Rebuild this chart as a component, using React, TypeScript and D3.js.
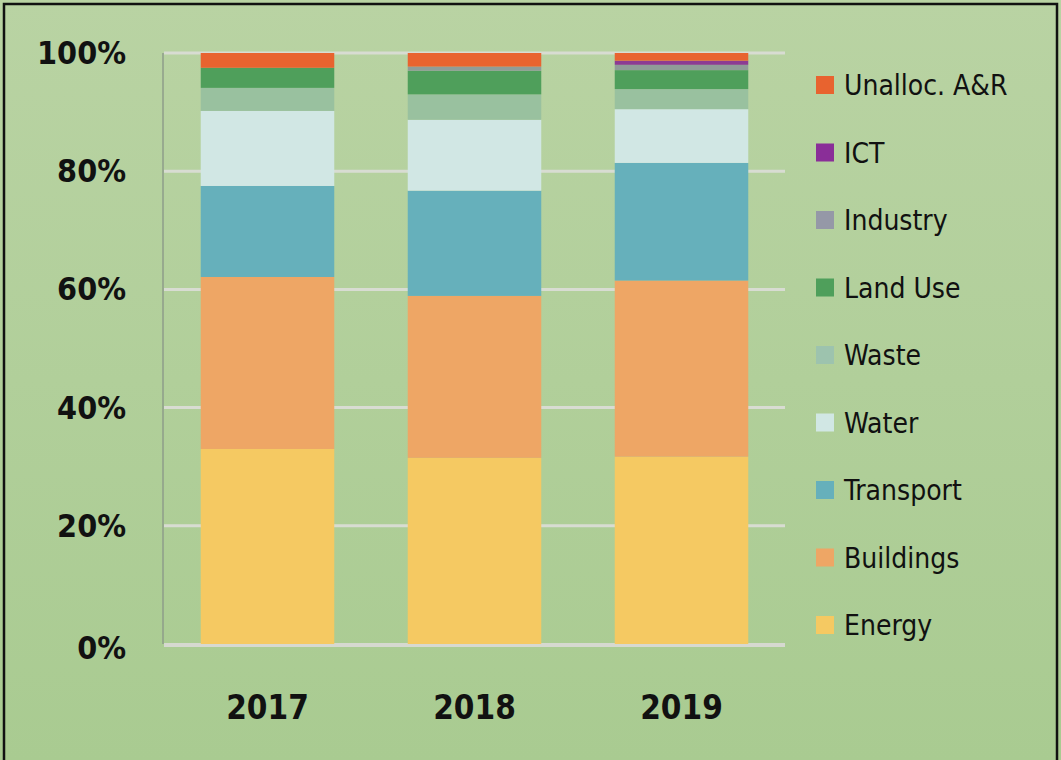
import React, { useEffect, useRef } from 'react';
import * as d3 from 'd3';

// years on the x axis
const years = ['2017', '2018', '2019'];

// sectors, bottom of the stack first
const sectors = ['Energy', 'Buildings', 'Transport', 'Water', 'Waste', 'Land Use', 'Industry', 'ICT', 'Unalloc. A&R'];

// share of each sector per year (%)
const energy = [33.0, 31.5, 31.7];
const buildings = [29.1, 27.4, 29.8];
const transport = [15.4, 17.8, 19.9];
const water = [12.7, 12.0, 9.1];
const waste = [3.9, 4.3, 3.4];
const landUse = [3.4, 4.0, 3.2];
const industry = [0, 0.7, 0.9];
const ict = [0, 0, 0.7];
const unalloc = [2.5, 2.3, 1.3];

const yTicks = [0, 0.2, 0.4, 0.6, 0.8, 1];

const App = () => {
  const svgRef = useRef(null);

  useEffect(() => {
    const svg = d3.select(svgRef.current);
    svg.selectAll('*').remove();

    const width = 1061;
    const height = 760;
    const plot = { left: 164, right: 785, top: 53, bottom: 644 };

    const colors = {
      'Energy': '#F5C962',
      'Buildings': '#EEA665',
      'Transport': '#66B0BB',
      'Water': '#D1E7E4',
      'Waste': '#99C19F',
      'Land Use': '#4F9F5B',
      'Industry': '#8F9C98',
      'ICT': '#8C3B93',
      'Unalloc. A&R': '#E8632F'
    };
    const legendColors = { ...colors, 'Industry': '#9598A7', 'ICT': '#8A2E98', 'Waste': '#9DC3AE' };

    const series = [energy, buildings, transport, water, waste, landUse, industry, ict, unalloc];
    const rows = years.map((yr, i) => {
      const row = { year: yr };
      sectors.forEach((s, j) => { row[s] = series[j][i]; });
      return row;
    });

    const stacked = d3.stack().keys(sectors).offset(d3.stackOffsetExpand)(rows);

    const x = d3.scaleBand()
      .domain(years)
      .range([plot.left, plot.right])
      .paddingInner(0.355)
      .paddingOuter(0.1775);

    const y = d3.scaleLinear()
      .domain([0, 1])
      .range([plot.bottom, plot.top]);

    // background
    const defs = svg.append('defs');
    const grad = defs.append('linearGradient')
      .attr('id', 'bg')
      .attr('x1', 0).attr('y1', 0).attr('x2', 0).attr('y2', 1);
    grad.append('stop').attr('offset', '0%').attr('stop-color', '#B9D3A3');
    grad.append('stop').attr('offset', '100%').attr('stop-color', '#A9CB91');

    svg.append('rect')
      .attr('width', width)
      .attr('height', height)
      .attr('fill', 'url(#bg)');

    svg.append('rect')
      .attr('x', 4)
      .attr('y', 4)
      .attr('width', 1053)
      .attr('height', 780)
      .attr('fill', 'none')
      .attr('stroke', '#111')
      .attr('stroke-width', 2.5);

    // gridlines
    svg.append('g')
      .selectAll('line')
      .data(yTicks.filter(t => t > 0))
      .join('line')
      .attr('x1', plot.left)
      .attr('x2', plot.right)
      .attr('y1', d => y(d))
      .attr('y2', d => y(d))
      .attr('stroke', '#D8DCD2')
      .attr('stroke-width', 3);

    // baseline
    svg.append('line')
      .attr('x1', plot.left)
      .attr('x2', plot.right)
      .attr('y1', y(0) + 1)
      .attr('y2', y(0) + 1)
      .attr('stroke', '#D6D9D0')
      .attr('stroke-width', 4);

    // y axis line
    svg.append('line')
      .attr('x1', plot.left - 1)
      .attr('x2', plot.left - 1)
      .attr('y1', y(1))
      .attr('y2', y(0))
      .attr('stroke', '#8E9C8A')
      .attr('stroke-width', 1.5);

    // bars
    svg.append('g')
      .selectAll('g')
      .data(stacked)
      .join('g')
      .attr('fill', d => colors[d.key])
      .selectAll('rect')
      .data(d => d)
      .join('rect')
      .attr('x', d => x(d.data.year))
      .attr('y', d => y(d[1]))
      .attr('height', d => y(d[0]) - y(d[1]))
      .attr('width', x.bandwidth());

    const labelFont = "'Liberation Sans Narrow', 'DejaVu Sans Condensed', 'Open Sans', sans-serif";

    // y tick labels
    svg.append('g')
      .selectAll('text')
      .data(yTicks)
      .join('text')
      .attr('x', 126)
      .attr('y', d => y(d) + 11 + (d === 0 ? 4 : 0))
      .attr('text-anchor', 'end')
      .attr('font-family', labelFont)
      .attr('font-weight', 'bold')
      .attr('font-size', 32)
      .attr('fill', '#111')
      .text(d => d3.format('.0%')(d));

    // x labels
    svg.append('g')
      .selectAll('text')
      .data(years)
      .join('text')
      .attr('x', d => x(d) + x.bandwidth() / 2)
      .attr('y', 719)
      .attr('text-anchor', 'middle')
      .attr('font-family', labelFont)
      .attr('font-weight', 'bold')
      .attr('font-size', 33)
      .attr('fill', '#111')
      .text(d => d);

    // legend, top item is the top of the stack
    const legendItems = sectors.slice().reverse();
    const legend = svg.append('g')
      .selectAll('g')
      .data(legendItems)
      .join('g')
      .attr('transform', (d, i) => `translate(816,${85 + i * 67.5})`);

    legend.append('rect')
      .attr('x', 0)
      .attr('y', -9)
      .attr('width', 18)
      .attr('height', 18)
      .attr('fill', d => legendColors[d]);

    legend.append('text')
      .attr('x', 28)
      .attr('y', 10)
      .attr('font-family', labelFont)
      .attr('font-size', 28)
      .attr('fill', '#111')
      .text(d => d);
  }, []);

  return (
    <svg
      ref={svgRef}
      width="1061"
      height="760"
      style={{ position: 'absolute', left: 0, top: 0, display: 'block' }}
    ></svg>
  );
};

export default App;
